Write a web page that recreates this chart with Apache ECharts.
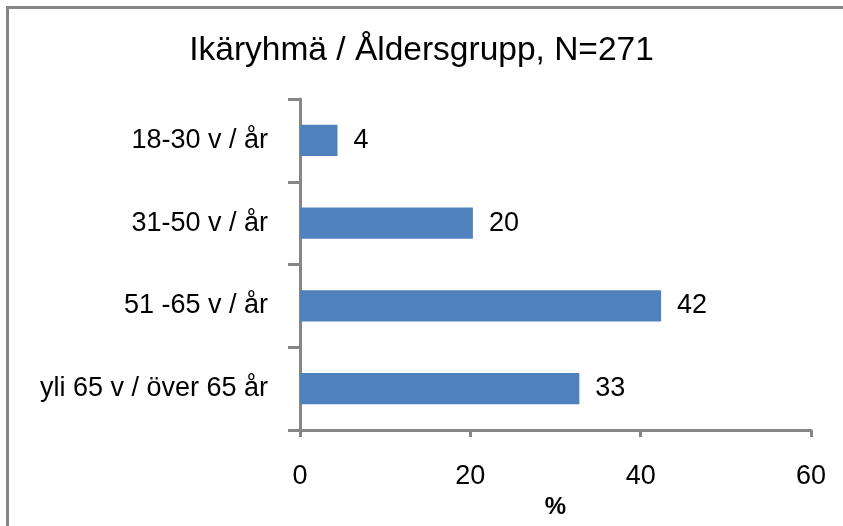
<!DOCTYPE html>
<html>
<head>
<meta charset="utf-8">
<script src="https://cdn.jsdelivr.net/npm/echarts@6/dist/echarts.min.js"></script>
<style>
html,body{margin:0;padding:0;background:#fff;}
#chart{width:843px;height:526px;}
</style>
</head>
<body>
<div id="chart"></div>
<script>
const titleText = 'Ikäryhmä / Åldersgrupp, N=271';
const categories = ['18-30 v / år', '31-50 v / år', '51 -65 v / år', 'yli 65 v / över 65 år'];
const values = [4.4, 20.3, 42.4, 32.8];
const xTicks = [0, 20, 40, 60];
const xName = '%';

const FONT = '"Liberation Sans", Arial, sans-serif';
const chart = echarts.init(document.getElementById('chart'));
chart.setOption({
  animation: false,
  backgroundColor: '#fff',
  graphic: [{
    type: 'rect',
    shape: {x: 7.5, y: 7.5, width: 900, height: 600},
    style: {fill: 'none', stroke: '#868686', lineWidth: 3},
    silent: true
  }],
  title: {
    text: titleText,
    left: 'center',
    top: 29,
    textStyle: {fontFamily: FONT, fontSize: 33.5, fontWeight: 'normal', color: '#000'}
  },
  grid: {left: 300, right: 32, top: 99, bottom: 96, containLabel: false},
  xAxis: {
    type: 'value',
    min: xTicks[0],
    max: xTicks[xTicks.length - 1],
    interval: 20,
    name: xName,
    nameLocation: 'middle',
    nameGap: 64,
    nameTextStyle: {fontFamily: FONT, fontSize: 24, fontWeight: 'bold', color: '#000'},
    axisLine: {show: true, lineStyle: {color: '#868686', width: 3}},
    axisTick: {show: true, length: 7, lineStyle: {color: '#868686', width: 3}},
    axisLabel: {margin: 33, fontFamily: FONT, fontSize: 27, color: '#000'},
    splitLine: {show: false}
  },
  yAxis: {
    type: 'category',
    data: categories,
    inverse: true,
    axisLine: {show: true, lineStyle: {color: '#868686', width: 3}},
    axisTick: {show: true, length: 12, alignWithLabel: false, lineStyle: {color: '#868686', width: 3}},
    axisLabel: {margin: 32, fontFamily: FONT, fontSize: 27, color: '#000'}
  },
  series: [{
    type: 'bar',
    data: values,
    barWidth: '37.5%',
    itemStyle: {color: '#4F81BD'},
    label: {
      show: true,
      position: 'right',
      distance: 16,
      fontFamily: FONT,
      fontSize: 27,
      color: '#000',
      formatter: p => Math.round(p.value)
    }
  }]
});
</script>
</body>
</html>
